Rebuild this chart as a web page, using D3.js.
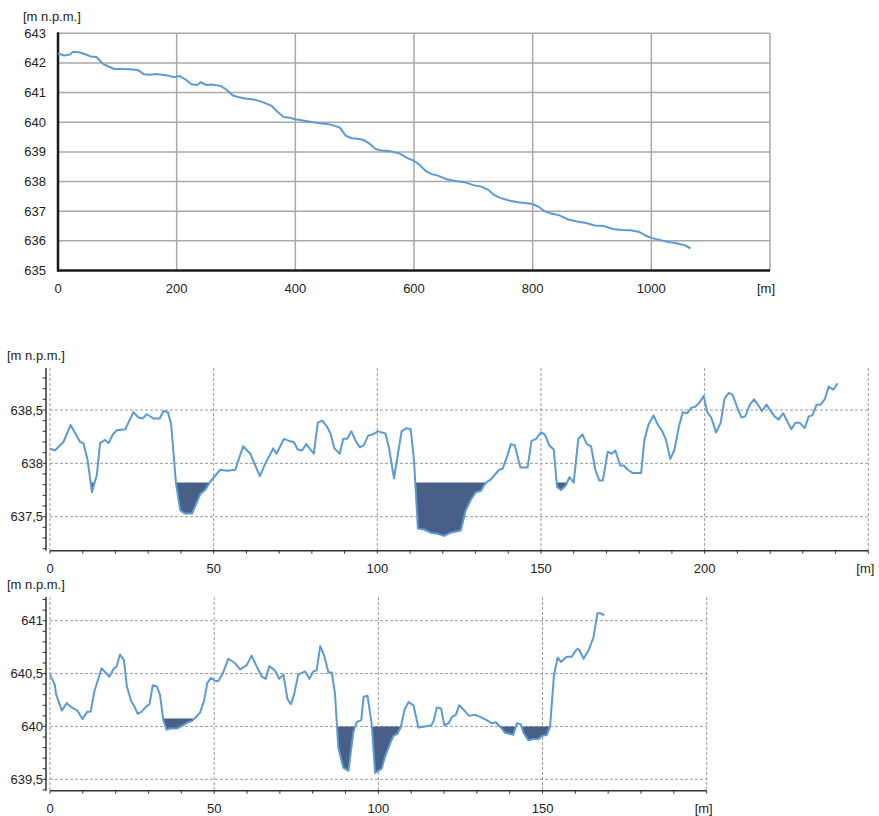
<!DOCTYPE html>
<html>
<head>
<meta charset="utf-8">
<script src="https://cdn.jsdelivr.net/npm/d3@7"></script>
<style>
  html, body { margin: 0; padding: 0; background: #fff; }
  svg text { font-family: "Liberation Sans", Arial, sans-serif; font-size: 13px; fill: #222; }
</style>
</head>
<body>
<svg id="chart" width="879" height="816"></svg>
<script>
// ---------- DATA ----------
// Chart 1: longitudinal profile
const topX = [0,10,20,25,35,45,55,65,75,85,95,105,120,135,145,155,165,175,185,195,205,215,225,235,240,250,260,275,285,295,305,315,330,345,360,370,380,390,400,415,430,445,460,475,485,495,505,515,525,535,545,560,575,590,600,610,620,630,640,655,670,685,700,715,725,735,745,760,775,790,800,810,820,830,845,860,875,890,905,920,935,950,965,980,990,1000,1010,1025,1040,1055,1066];
const topY = [642.32,642.25,642.28,642.38,642.36,642.30,642.22,642.20,641.98,641.88,641.80,641.80,641.79,641.76,641.62,641.60,641.63,641.60,641.58,641.52,641.56,641.44,641.28,641.26,641.35,641.26,641.27,641.22,641.08,640.90,640.84,640.80,640.77,640.68,640.55,640.35,640.18,640.15,640.10,640.05,640.00,639.96,639.92,639.82,639.55,639.46,639.44,639.40,639.28,639.10,639.05,639.02,638.95,638.78,638.70,638.55,638.35,638.25,638.20,638.08,638.02,637.98,637.88,637.82,637.72,637.55,637.45,637.36,637.30,637.27,637.24,637.15,637.00,636.93,636.86,636.72,636.65,636.60,636.52,636.50,636.40,636.37,636.36,636.30,636.18,636.10,636.05,635.98,635.93,635.86,635.75];
const topYTicks = [635,636,637,638,639,640,641,642,643];
const topXTicks = [0,200,400,600,800,1000];

// Chart 2: cross-section 1
const midX = [0,1.5,4.1,6.3,9.2,10.2,11.5,12.8,14.3,15.3,16.8,17.9,19.2,20.4,23,25.5,27,28.3,29.6,31.6,33.5,34.7,36,37,38.5,39.8,41.1,43.4,45.9,47.4,49,52,54.1,56.6,59,61.2,64.1,65.8,68.2,69.2,71.5,73,74.5,75.7,77,78.3,80.6,81.8,83.2,84.7,85.7,86.9,88.5,89.6,90.8,92.1,93.4,94.7,95.9,97.2,98.5,100.2,102.5,103.6,105.1,106.1,107.4,108.9,110.2,111.2,112.4,114.3,116.3,118.4,120.4,122.4,125.5,127,128.6,130.1,131.6,133.2,134.7,137.2,138.3,139.6,140.8,142,143.7,145.9,147.1,148.5,150,151.2,152.5,153.9,154.9,156.1,157.5,158.7,160,161.4,162.7,164,165.3,166.6,167.8,168.9,170.4,171.6,172.7,174.2,175.3,176.5,178,180.6,181.6,182.8,184.4,185.7,186.9,188.2,189.5,190.8,192.1,193.3,194.7,195.9,197.1,198.2,199.7,200.8,202,203.5,204.9,206.1,207.4,208.6,209.9,211.2,212.4,213.8,215.1,216.3,217.5,218.9,220.2,221.4,222.6,224,225.3,226.5,227.7,229.1,230.6,231.8,232.9,234.2,235.4,236.7,237.9,239.3,240.6];
const midY = [638.14,638.12,638.20,638.36,638.20,638.19,638.03,637.73,637.89,638.19,638.22,638.19,638.27,638.31,638.32,638.48,638.43,638.42,638.46,638.42,638.42,638.49,638.48,638.37,637.81,637.56,637.53,637.53,637.71,637.75,637.83,637.94,637.93,637.94,638.16,638.09,637.88,638.00,638.14,638.09,638.23,638.21,638.20,638.13,638.12,638.18,638.09,638.38,638.40,638.34,638.28,638.14,638.09,638.23,638.23,638.30,638.21,638.15,638.17,638.26,638.27,638.30,638.28,638.14,637.86,638.05,638.30,638.33,638.32,638.03,637.39,637.38,637.35,637.34,637.32,637.35,637.37,637.56,637.66,637.73,637.74,637.82,637.85,637.94,637.95,638.06,638.18,638.17,637.96,637.96,638.21,638.23,638.29,638.27,638.17,638.13,637.78,637.75,637.79,637.87,637.82,638.23,638.27,638.18,638.16,637.94,637.84,637.84,638.11,638.09,638.12,637.98,637.98,637.94,637.91,637.91,638.22,638.36,638.45,638.36,638.31,638.22,638.04,638.13,638.34,638.48,638.47,638.52,638.53,638.56,638.63,638.48,638.43,638.29,638.38,638.61,638.66,638.64,638.53,638.43,638.44,638.55,638.60,638.55,638.49,638.55,638.49,638.44,638.41,638.47,638.39,638.32,638.38,638.38,638.33,638.44,638.45,638.55,638.55,638.60,638.72,638.69,638.75];
const midYTicks = [637.5, 638, 638.5];
const midYLabels = ["637,5", "638", "638,5"];
const midXTicks = [0,50,100,150,200];
// ponds: [from, to, water level]
const midPonds = [[10,16,637.82],[37,51,637.82],[110,136,637.82],[153,159.5,637.82]];

// Chart 3: cross-section 2
const botX = [0,1.5,1.8,3.6,5.1,6.6,8.3,9.9,11.4,12.4,13.5,15.7,18.1,19.3,20.3,21.3,22.5,23.4,24.7,25.7,26.7,27.9,29.4,30.3,31.3,32.5,33.5,34.5,35.5,36.5,38.6,40.4,42.1,43.1,44.2,45.7,46.9,47.9,49,50.3,51.3,52.6,54.3,56.3,57.9,59.9,61.4,62.9,64.5,65.7,66.8,68.5,69.8,71.1,72.3,73.4,74.4,75.6,77.7,79,80.2,81.2,82.3,83.5,84.8,85.8,86.8,87.8,89.3,90.9,92.4,93.4,94.8,95.5,96.7,98,99,101,102.1,103.6,104.6,105.8,106.8,108,109.2,110.7,112.2,114.2,116.1,116.8,117.8,119.1,120.1,121.4,122.4,123.6,124.6,126.2,127.7,129.5,131,133,134.5,135.8,137.3,138.6,141.1,142.2,143.4,144.2,145.7,147.2,148.8,149.8,151.3,152.3,153.5,154.6,155.6,157.4,158.9,160.4,161.1,162.5,164,165.5,166.7,167.8,168.8];
const botY = [640.49,640.39,640.31,640.15,640.22,640.18,640.15,640.07,640.14,640.14,640.33,640.55,640.47,640.54,640.57,640.68,640.63,640.38,640.24,640.19,640.12,640.14,640.19,640.21,640.39,640.38,640.30,640.06,639.97,639.98,639.98,640.01,640.04,640.05,640.08,640.13,640.24,640.41,640.46,640.43,640.43,640.50,640.64,640.60,640.54,640.58,640.67,640.57,640.47,640.45,640.57,640.53,640.45,640.49,640.26,640.21,640.31,640.49,640.52,640.45,640.52,640.53,640.76,640.67,640.51,640.51,640.31,639.80,639.61,639.58,639.95,640.04,640.06,640.28,640.29,640.02,639.56,639.60,639.72,639.84,639.91,639.93,639.99,640.16,640.23,640.20,639.99,640.00,640.01,640.05,640.18,640.17,640.01,640.03,640.09,640.11,640.20,640.15,640.10,640.11,640.09,640.06,640.03,640.04,639.99,639.94,639.92,640.03,640.02,639.94,639.87,639.88,639.88,639.91,639.92,640.00,640.49,640.65,640.61,640.66,640.66,640.73,640.73,640.64,640.72,640.84,641.07,641.07,641.05];
const botYTicks = [639.5, 640, 640.5, 641];
const botYLabels = ["639,5", "640", "640,5", "641"];
const botXTicks = [0,50,100,150];
const botPonds = [[33.8,45,640.075],[86,108,640.0],[136,153,640.0]];

// ---------- DRAWING ----------
const svg = d3.select("#chart");
const LINE = "#5b9bd5";
const FILL = "#485f88";

// ----- Chart 1 -----
(function () {
  const x = d3.scaleLinear().domain([0, 1200]).range([58, 770]);
  const y = d3.scaleLinear().domain([635, 643]).range([270.5, 33.3]);
  const g = svg.append("g");
  // grid
  g.selectAll("line.hg").data(topYTicks.slice(1)).join("line")
    .attr("x1", x(0)).attr("x2", x(1200)).attr("y1", d => y(d)).attr("y2", d => y(d))
    .attr("stroke", "#a8a8a8").attr("stroke-width", 1.5);
  g.selectAll("line.vg").data([200,400,600,800,1000,1200]).join("line")
    .attr("x1", d => x(d)).attr("x2", d => x(d)).attr("y1", y(643)).attr("y2", y(635))
    .attr("stroke", "#a8a8a8").attr("stroke-width", 1.5);
  // axes
  g.append("line").attr("x1", x(0)).attr("x2", x(0)).attr("y1", y(643) - 1).attr("y2", y(635) + 1)
    .attr("stroke", "#1a1a1a").attr("stroke-width", 2.5);
  g.append("line").attr("x1", x(0) - 1).attr("x2", x(1200)).attr("y1", y(635)).attr("y2", y(635))
    .attr("stroke", "#1a1a1a").attr("stroke-width", 2.5);
  // labels
  g.selectAll("text.yl").data(topYTicks).join("text")
    .attr("x", 46).attr("y", d => y(d) + 4.5).attr("text-anchor", "end").text(d => d);
  g.selectAll("text.xl").data(topXTicks).join("text")
    .attr("x", d => x(d)).attr("y", 293).attr("text-anchor", "middle").text(d => d);
  g.append("text").attr("x", 23).attr("y", 21).text("[m n.p.m.]");
  g.append("text").attr("x", 766).attr("y", 293).attr("text-anchor", "middle").text("[m]");
  // line
  const pts = topX.map((v, i) => [v, topY[i]]);
  g.append("path").datum(pts)
    .attr("d", d3.line().x(d => x(d[0])).y(d => y(d[1])))
    .attr("fill", "none").attr("stroke", LINE).attr("stroke-width", 2);
})();

// ----- Detail charts -----
function detailChart(cfg) {
  const x = d3.scaleLinear().domain([0, cfg.xMax]).range([50, cfg.xRight]);
  const y = d3.scaleLinear().domain(cfg.yRef).range(cfg.yRefPx);
  const yTop = cfg.axisTop, yBot = cfg.axisBottom;
  const g = svg.append("g");
  const dash = "3,2";
  // horizontal grid
  g.selectAll("line.hg").data(cfg.yTicks).join("line")
    .attr("x1", x(0)).attr("x2", x(cfg.xMax)).attr("y1", d => y(d)).attr("y2", d => y(d))
    .attr("stroke", "#9a9a9a").attr("stroke-width", 1).attr("stroke-dasharray", dash);
  // vertical grid
  const vg = d3.range(0, cfg.xMax + 1, 50);
  g.selectAll("line.vg").data(vg).join("line")
    .attr("x1", d => x(d)).attr("x2", d => x(d)).attr("y1", yTop).attr("y2", yBot)
    .attr("stroke", "#9a9a9a").attr("stroke-width", 1).attr("stroke-dasharray", dash);
  // ponds
  const pts = cfg.xs.map((v, i) => [v, cfg.ys[i]]);
  cfg.ponds.forEach(([s, e, L]) => {
    const arr = [];
    for (let i = 0; i < pts.length; i++) {
      if (i > 0) {
        const [px, py] = pts[i - 1], [cx, cy] = pts[i];
        if ((py - L) * (cy - L) < 0) {
          const t = (L - py) / (cy - py);
          arr.push([px + t * (cx - px), L]);
        }
      }
      arr.push([pts[i][0], Math.min(pts[i][1], L)]);
    }
    const sub = arr.filter(d => d[0] >= s && d[0] <= e);
    g.append("path").datum(sub)
      .attr("d", d3.area().x(d => x(d[0])).y0(y(L)).y1(d => y(d[1])))
      .attr("fill", FILL).attr("stroke", "none");
  });
  // left axis + minor ticks
  g.append("line").attr("x1", 46).attr("x2", 46).attr("y1", yTop).attr("y2", yBot)
    .attr("stroke", "#333").attr("stroke-width", 1.5);
  const yMinor = d3.range(cfg.minorFrom, cfg.minorTo + 0.001, 0.1);
  g.selectAll("line.ym").data(yMinor).join("line")
    .attr("x1", 42.5).attr("x2", 46).attr("y1", d => y(d)).attr("y2", d => y(d))
    .attr("stroke", "#333").attr("stroke-width", 1);
  // bottom axis + ticks
  g.append("line").attr("x1", x(0)).attr("x2", x(cfg.xMax)).attr("y1", yBot).attr("y2", yBot)
    .attr("stroke", "#333").attr("stroke-width", 1.5);
  g.selectAll("line.xm").data(d3.range(0, cfg.xMax + 1, 10)).join("line")
    .attr("x1", d => x(d)).attr("x2", d => x(d)).attr("y1", yBot).attr("y2", yBot + 3)
    .attr("stroke", "#333").attr("stroke-width", 1);
  // labels
  g.selectAll("text.yl").data(cfg.yTicks).join("text")
    .attr("x", 43).attr("y", d => y(d) + 4.5).attr("text-anchor", "end")
    .text((d, i) => cfg.yLabels[i]);
  g.selectAll("text.xl").data(cfg.xTicks).join("text")
    .attr("x", d => x(d)).attr("y", yBot + 22).attr("text-anchor", "middle").text(d => d);
  g.append("text").attr("x", 7).attr("y", cfg.unitY).text("[m n.p.m.]");
  g.append("text").attr("x", x(cfg.xMax) - 3).attr("y", yBot + 22).attr("text-anchor", "middle").text("[m]");
  // line
  g.append("path").datum(pts)
    .attr("d", d3.line().x(d => x(d[0])).y(d => y(d[1])))
    .attr("fill", "none").attr("stroke", LINE).attr("stroke-width", 2)
    .attr("stroke-linejoin", "round");
}

detailChart({
  xs: midX, ys: midY, ponds: midPonds,
  xMax: 250, xRight: 868.3,
  yRef: [637.5, 638.5], yRefPx: [516.7, 410],
  axisTop: 368, axisBottom: 550.7,
  minorFrom: 637.2, minorTo: 638.8,
  yTicks: midYTicks, yLabels: midYLabels, xTicks: midXTicks,
  unitY: 360
});

detailChart({
  xs: botX, ys: botY, ponds: botPonds,
  xMax: 200, xRight: 706.7,
  yRef: [639.5, 641], yRefPx: [779.3, 620.7],
  axisTop: 597, axisBottom: 790.7,
  minorFrom: 639.4, minorTo: 641.2,
  yTicks: botYTicks, yLabels: botYLabels, xTicks: botXTicks,
  unitY: 589
});
</script>
</body>
</html>
